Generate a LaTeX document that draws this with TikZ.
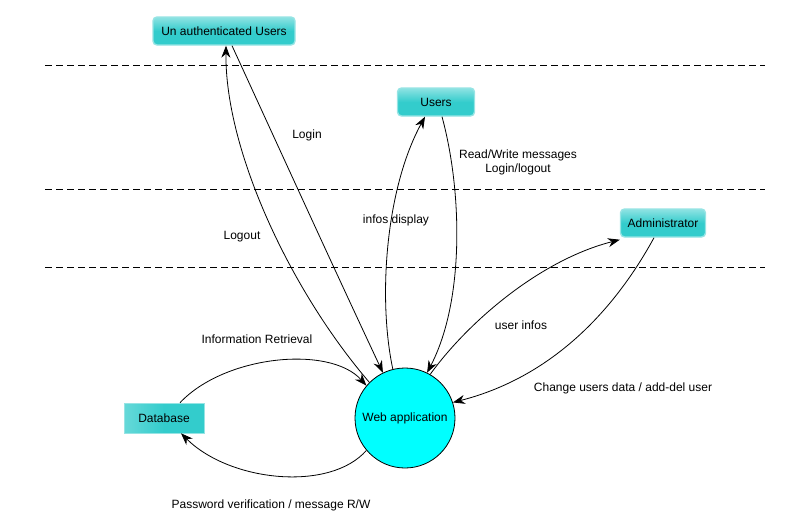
\documentclass[tikz,border=0pt]{standalone}
\usepackage{fontspec}
\setmainfont{Liberation Sans}
\definecolor{BoxTeal}{RGB}{51, 204, 204}
\definecolor{BoxEdge}{RGB}{150, 228, 228}
\definecolor{WebCyan}{RGB}{0, 255, 255}
\usetikzlibrary{arrows.meta, positioning, shapes, calc}

\tikzset{
  actor/.style={rectangle, rounded corners=4pt, draw=BoxEdge, line width=1.4pt,
    top color=BoxTeal!55!white, bottom color=BoxTeal, middle color=BoxTeal,
    font=\fontsize{12}{14}\selectfont, minimum height=28pt, inner sep=2pt},
  store/.style={rectangle, draw=BoxEdge, line width=0.6pt,
    left color=BoxTeal!75!white, right color=BoxTeal, middle color=BoxTeal,
    font=\fontsize{12}{14}\selectfont, minimum width=80pt, minimum height=30pt},
  flow/.style={-{Stealth[length=12pt, width=9pt]}, line width=0.8pt},
  lbl/.style={font=\fontsize{12}{14}\selectfont, inner sep=1pt},
  lane/.style={dash pattern=on 7pt off 4pt, line width=0.8pt}
}

\begin{document}
\begin{tikzpicture}[x=1pt, y=-1pt]
        \useasboundingbox (0,0) rectangle (808,530);

        % swim lane separators
        \draw[lane] (45,65) -- (765,65);
        \draw[lane] (45,189) -- (765,189);
        \draw[lane] (45,267) -- (765,267);

        \node[actor, minimum width=142pt] (unauth) at (224,31) {Un authenticated Users};
        \node[actor, minimum width=77pt] (users) at (436,102) {Users};
        \node[actor, minimum width=85pt] (admin) at (663,223) {Administrator};
        \node[store] (db) at (164,418) {Database};
        \node[circle, draw, fill=WebCyan, line width=0.8pt, minimum size=100pt,
              font=\fontsize{12}{14}\selectfont] (web) at (405,418) {Web application};

        \draw[flow] (web.135) .. controls (290,290) and (225,150) .. ([xshift=2pt]unauth.south);
        \draw[flow] ([xshift=8pt]unauth.south) .. controls (280,150) and (330,260) .. (web.116);
        \draw[flow] (web.104) .. controls (378,300) and (385,190) .. ([xshift=-11pt]users.south);
        \draw[flow] ([xshift=6pt]users.south) .. controls (462,190) and (465,300) .. (web.64);
        \draw[flow] (web.60) .. controls (468,322) and (540,260) .. ([yshift=-2pt]admin.west |- admin.south);
        \draw[flow] ([xshift=-9pt]admin.south) .. controls (620,300) and (560,375) .. (web.18);
        \draw[flow] ([xshift=16pt]db.north) .. controls (225,355) and (330,345) .. (web.140);
        \draw[flow] (web.220) .. controls (330,492) and (230,482) .. ([xshift=17pt]db.south);

        \node[lbl] (lblLogin) at (307,135) {Login};
        \node[lbl] (lblLogout) at (242,237) {Logout};
        \node[lbl] (lblInfos) at (396,220) {infos display};
        \node[lbl, align=center] (lblRead) at (518,162) {Read/Write messages\\Login/logout};
        \node[lbl] (lblUser) at (521,325) {user infos};
        \node[lbl] (lblChange) at (623,388) {Change users data / add-del user};
        \node[lbl] (lblRetr) at (257,339) {Information Retrieval};
        \node[lbl] (lblPass) at (271,505) {Password verification / message R/W};
    \end{tikzpicture}
\end{document}
